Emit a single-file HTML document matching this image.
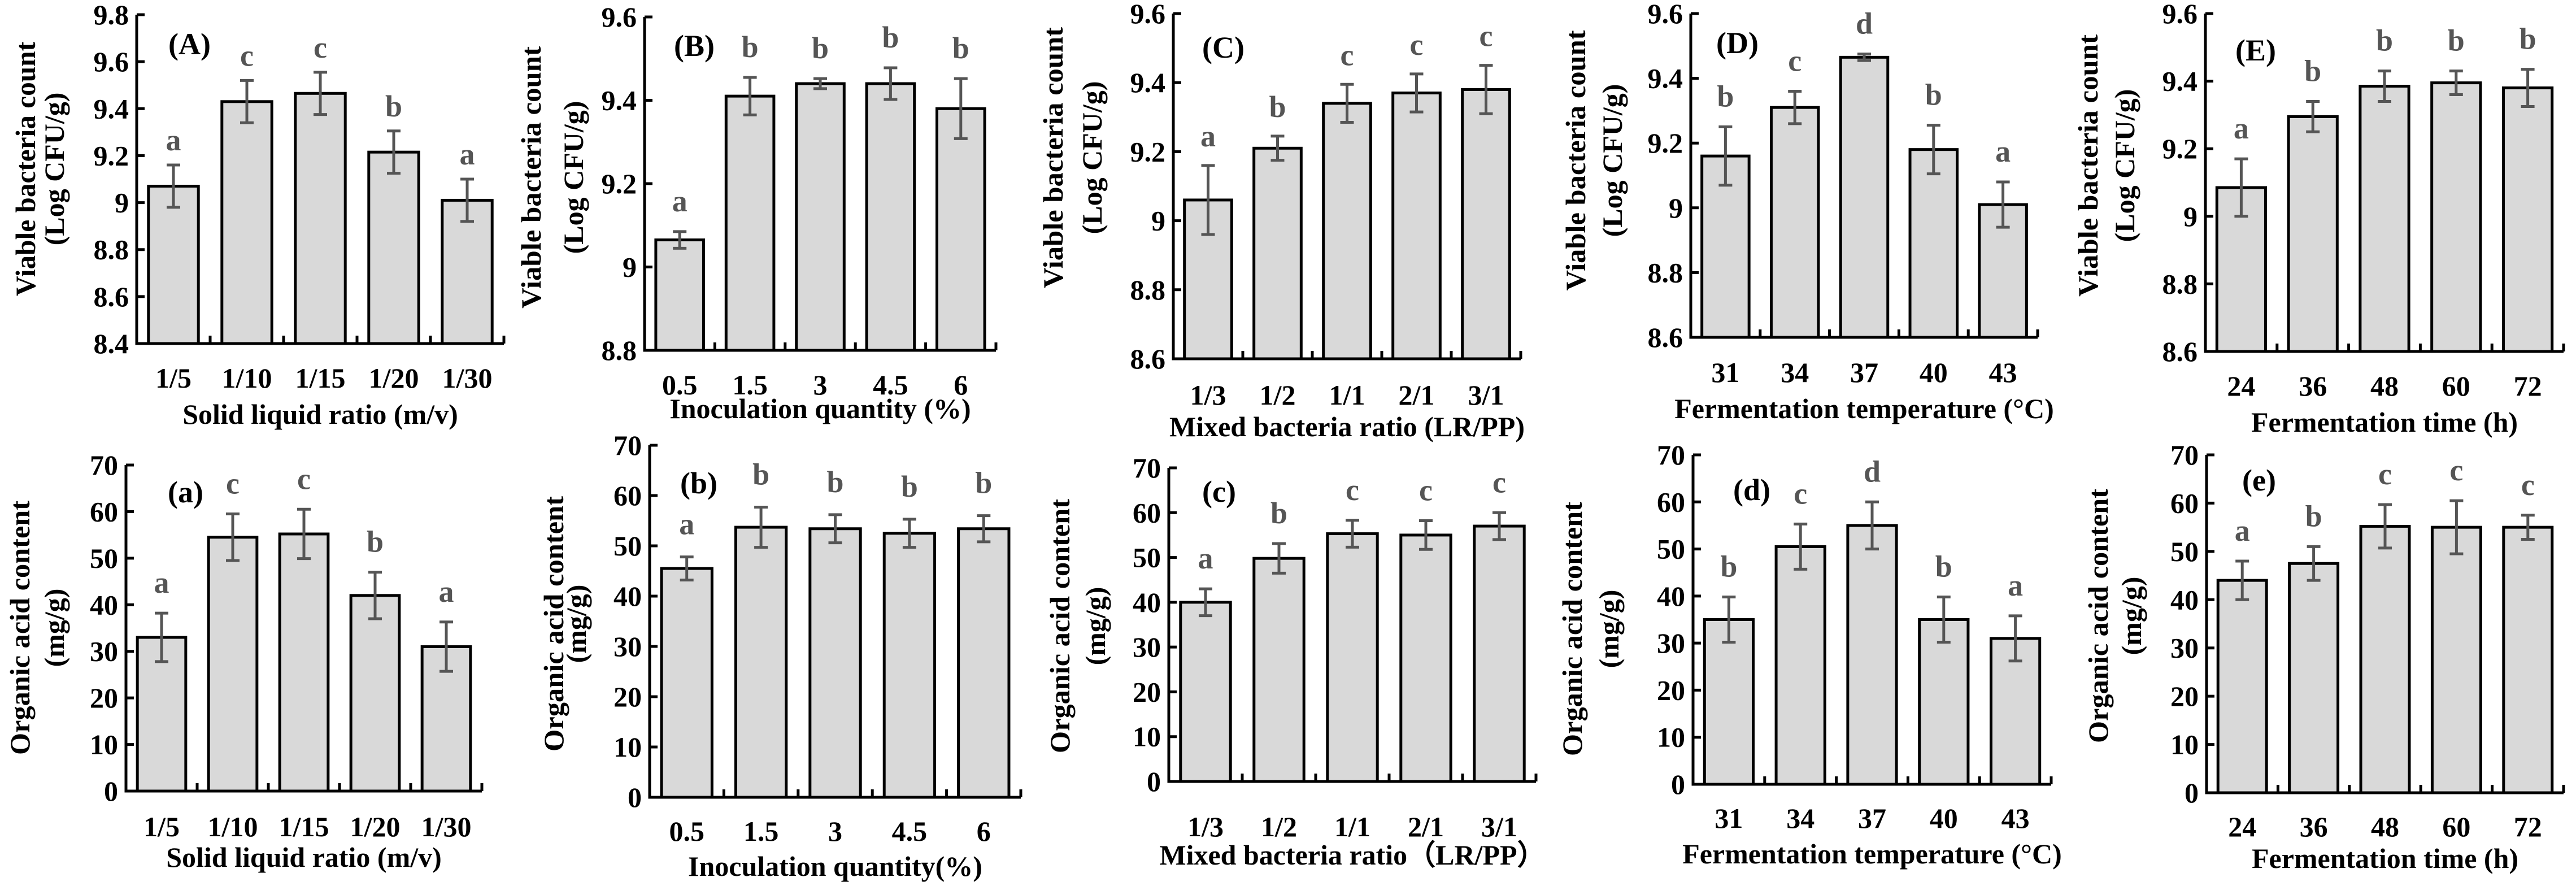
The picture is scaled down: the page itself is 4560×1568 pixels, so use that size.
<!DOCTYPE html>
<html><head><meta charset="utf-8"><style>
html,body{margin:0;padding:0;background:#fff;}
svg{display:block;font-family:"Liberation Serif",serif;}
</style></head><body>
<svg id="fig" width="4560" height="1568" viewBox="0 0 4560 1568" xmlns="http://www.w3.org/2000/svg"></svg>
<script>
// ---- data ----
const catsA=["1/5","1/10","1/15","1/20","1/30"];
const valsA=[9.07,9.43,9.465,9.215,9.01];
const errsA=[0.09,0.09,0.09,0.09,0.09];
const letsA=["a","c","c","b","a"];
const ticksA=[8.4,8.6,8.8,9,9.2,9.4,9.6,9.8];

const catsB=["0.5","1.5","3","4.5","6"];
const valsB=[9.065,9.41,9.44,9.44,9.38];
const errsB=[0.02,0.045,0.012,0.038,0.072];
const letsB=["a","b","b","b","b"];
const ticksB=[8.8,9,9.2,9.4,9.6];

const catsC=["1/3","1/2","1/1","2/1","3/1"];
const valsC=[9.06,9.21,9.34,9.37,9.38];
const errsC=[0.1,0.035,0.055,0.055,0.07];
const letsC=["a","b","c","c","c"];
const ticksC=[8.6,8.8,9,9.2,9.4,9.6];

const catsD=["31","34","37","40","43"];
const valsD=[9.16,9.31,9.465,9.18,9.01];
const errsD=[0.09,0.05,0.01,0.075,0.07];
const letsD=["b","c","d","b","a"];
const ticksD=[8.6,8.8,9,9.2,9.4,9.6];

const catsE=["24","36","48","60","72"];
const valsE=[9.085,9.295,9.385,9.395,9.38];
const errsE=[0.085,0.045,0.045,0.035,0.055];
const letsE=["a","b","b","b","b"];
const ticksE=[8.6,8.8,9,9.2,9.4,9.6];

const valsa=[33,54.5,55.2,42,31];
const errsa=[5.2,5,5.3,5,5.3];
const letsa=["a","c","c","b","a"];
const valsb=[45.5,53.7,53.4,52.5,53.4];
const errsb=[2.3,4,2.8,2.8,2.6];
const letsb=["a","b","b","b","b"];
const valsc=[40,49.8,55.3,55,57];
const errsc=[3,3.3,3,3.2,3];
const letsc=["a","b","c","c","c"];
const valsd=[35,50.5,55,35,31];
const errsd=[4.8,4.8,5,4.8,4.8];
const letsd=["b","c","d","b","a"];
const valse=[44,47.5,55.2,55,55];
const errse=[4,3.5,4.5,5.5,2.5];
const letse=["a","b","c","c","c"];
const ticksOrg=[0,10,20,30,40,50,60,70];

const NS="http://www.w3.org/2000/svg";
const svg=document.getElementById('fig');
function mk(tag,attrs,parent,txt){const e=document.createElementNS(NS,tag);for(const k in attrs)e.setAttribute(k,attrs[k]);if(txt!==undefined)e.textContent=txt;(parent||svg).appendChild(e);return e;}

function panel(o){
  const g=mk('g',{});
  
  
  const min=o.ticks[0],max=o.ticks[o.ticks.length-1];
  const y=v=>o.yBot-(v-min)/(max-min)*(o.yBot-o.yTop);
  const n=o.cats.length, sp=(o.x1-o.ax)/n;
  const x=i=>o.ax+sp*(i+0.5);
  const bw=sp*0.68;
  o.vals.forEach((v,i)=>{
    const r=mk('rect',{x:x(i)-bw/2,y:y(v),width:bw,height:o.yBot-y(v),fill:'#d9d9d9',stroke:'#000','stroke-width':5},g);
    
    
    const e1=y(v+o.errs[i]),e2=y(v-o.errs[i]);
    const eb=mk('path',{d:`M${x(i)},${e1}V${e2}M${x(i)-12},${e1}H${x(i)+12}M${x(i)-12},${e2}H${x(i)+12}`,stroke:'#555','stroke-width':5,fill:'none'},g);
    
    
    const t=mk('text',{x:x(i),y:e1-o.lg,'text-anchor':'middle','font-size':54,'font-weight':'bold',fill:'#555'},g,o.lets[i]);
    
    
    const tl=mk('text',{x:x(i),y:o.lblY,'text-anchor':'middle','font-size':50,'font-weight':'bold'},g,o.cats[i]);
    
    
  });
  let d=`M${o.ax},${o.yTop}V${o.yBot}H${o.x1}`;
  o.ticks.forEach(v=>{d+=`M${o.ax},${y(v)}h14`;});
  for(let i=1;i<=n;i++){d+=`M${o.ax+sp*i},${o.yBot}v-14`;}
  const ax=mk('path',{d:d,stroke:'#000','stroke-width':5,fill:'none'},g);
  
  
  o.ticks.forEach(v=>{
    const t=mk('text',{x:o.ax-14,y:y(v)+17,'text-anchor':'end','font-size':50,'font-weight':'bold'},g,String(v));
    
    
  });
  const xt=mk('text',{x:(o.ax+o.x1)/2,y:o.titleY,'text-anchor':'middle','font-size':50,'font-weight':'bold'},g,o.xTitle);
  
  
  o.yTitle.forEach((s,k)=>{
    const cx=o.yt[k], cy=o.ytc;
    const t=mk('text',{x:0,y:0,transform:`translate(${cx+17},${cy}) rotate(-90)`,'text-anchor':'middle','font-size':50,'font-weight':'bold'},g,s);
    if(k===0){t.setAttribute('textLength',o.ytl);t.setAttribute('lengthAdjust','spacingAndGlyphs');}
    
    
  });
  const tg=mk('text',{x:o.tag[0],y:o.tag[1],'font-size':54,'font-weight':'bold'},g,o.tagText);
  
  
}
const vt=["Viable bacteria count","(Log CFU/g)"], ot=["Organic acid content","(mg/g)"];
panel({id:'A',cats:catsA,vals:valsA,errs:errsA,lets:letsA,ticks:ticksA,ax:242,x1:892,yTop:26,yBot:608,lblY:686,titleY:750,xTitle:"Solid liquid  ratio (m/v)",yTitle:vt,yt:[45,96],ytc:299,ytl:450,tag:[298,96],tagText:"(A)",lg:26});
panel({id:'B',cats:catsB,vals:valsB,errs:errsB,lets:letsB,ticks:ticksB,ax:1141,x1:1763,yTop:30,yBot:620,lblY:698,titleY:740,xTitle:"Inoculation quantity  (%)",yTitle:vt,yt:[940,1015],ytc:314,ytl:464,tag:[1193,99],tagText:"(B)",lg:36});
panel({id:'C',cats:catsC,vals:valsC,errs:errsC,lets:letsC,ticks:ticksC,ax:2077,x1:2692,yTop:24,yBot:635,lblY:716,titleY:772,xTitle:"Mixed bacteria ratio (LR/PP)",yTitle:vt,yt:[1864,1933],ytc:279,ytl:462,tag:[2128,102],tagText:"(C)",lg:34});
panel({id:'D',cats:catsD,vals:valsD,errs:errsD,lets:letsD,ticks:ticksD,ax:2993,x1:3607,yTop:24,yBot:597,lblY:676,titleY:740,xTitle:"Fermentation temperature (\u00B0C)",yTitle:vt,yt:[2789,2854],ytc:284,ytl:461,tag:[3038,94],tagText:"(D)",lg:36});
panel({id:'E',cats:catsE,vals:valsE,errs:errsE,lets:letsE,ticks:ticksE,ax:3904,x1:4538,yTop:24,yBot:622,lblY:700,titleY:764,xTitle:"Fermentation time (h)",yTitle:vt,yt:[3696,3761],ytc:293,ytl:464,tag:[3957,107],tagText:"(E)",lg:36});
panel({id:'a',cats:catsA,vals:valsa,errs:errsa,lets:letsa,ticks:ticksOrg,ax:223,x1:853,yTop:823,yBot:1400,lblY:1480,titleY:1534,xTitle:"Solid liquid  ratio (m/v)",yTitle:ot,yt:[35,96],ytc:1111,ytl:450,tag:[297,889],tagText:"(a)",lg:36});
panel({id:'b',cats:catsB,vals:valsb,errs:errsb,lets:letsb,ticks:ticksOrg,ax:1150,x1:1807,yTop:788,yBot:1411,lblY:1488,titleY:1550,xTitle:"Inoculation quantity(%)",yTitle:ot,yt:[980,1020],ytc:1104,ytl:452,tag:[1204,873],tagText:"(b)",lg:40});
panel({id:'c',cats:catsC,vals:valsc,errs:errsc,lets:letsc,ticks:ticksOrg,ax:2069,x1:2719,yTop:828,yBot:1383,lblY:1480,titleY:1530,xTitle:"Mixed bacteria ratio\uFF08LR/PP\uFF09",yTitle:ot,yt:[1876,1939],ytc:1108,ytl:450,tag:[2128,888],tagText:"(c)",lg:36});
panel({id:'d',cats:catsD,vals:valsd,errs:errsd,lets:letsd,ticks:ticksOrg,ax:2997,x1:3631,yTop:805,yBot:1388,lblY:1465,titleY:1528,xTitle:"Fermentation temperature (\u00B0C)",yTitle:ot,yt:[2783,2848],ytc:1113,ytl:450,tag:[3068,885],tagText:"(d)",lg:36});
panel({id:'e',cats:catsE,vals:valse,errs:errse,lets:letse,ticks:ticksOrg,ax:3906,x1:4538,yTop:805,yBot:1403,lblY:1480,titleY:1536,xTitle:"Fermentation time (h)",yTitle:ot,yt:[3714,3773],ytc:1090,ytl:450,tag:[3969,868],tagText:"(e)",lg:36});
</script>
</body></html>
